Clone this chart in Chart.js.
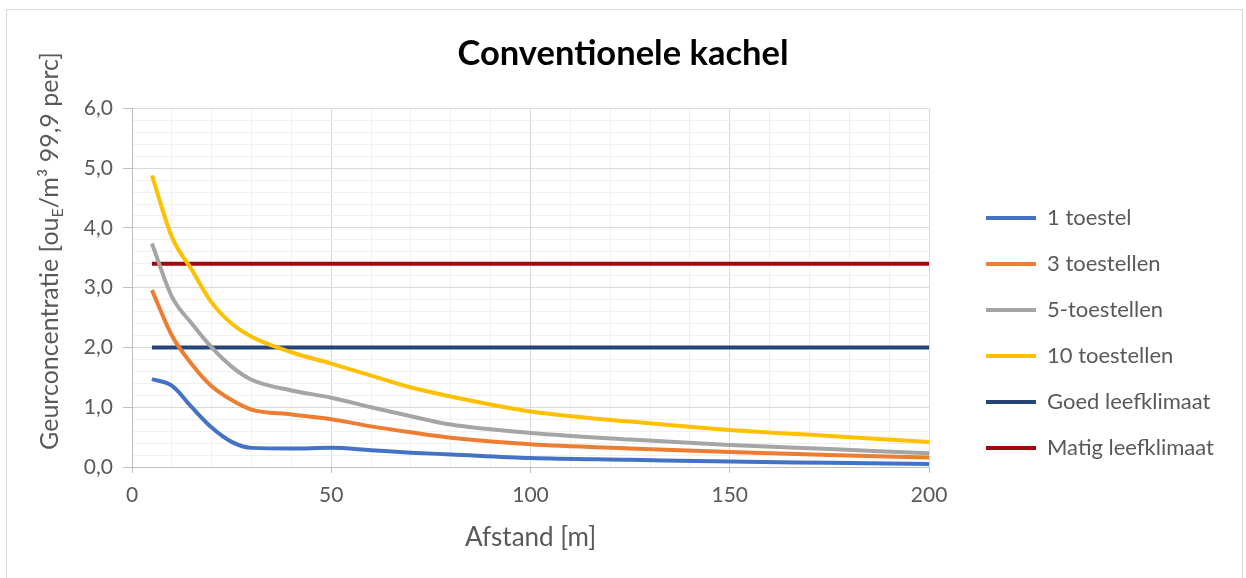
<!DOCTYPE html>
<html>
<head>
<meta charset="utf-8">
<script src="https://cdn.jsdelivr.net/npm/chart.js@4.4.1/dist/chart.umd.min.js"></script>
<style>
    html, body { margin: 0; padding: 0; background: #fff; }
    #wrap { width: 1246px; height: 578px; }
</style>
</head>
<body>
<div id="wrap"><canvas id="chart"></canvas></div>
<script>
// afstand in meter
const afstand = [5, 10, 15, 20, 25, 30, 40, 50, 60, 70, 80, 100, 125, 150, 175, 200];
const toestel1 = [1.47, 1.36, 1.00, 0.66, 0.42, 0.32, 0.31, 0.32, 0.28, 0.24, 0.21, 0.15, 0.12, 0.09, 0.07, 0.05];
const toestellen3 = [2.96, 2.20, 1.72, 1.35, 1.12, 0.96, 0.88, 0.80, 0.68, 0.58, 0.49, 0.38, 0.31, 0.25, 0.20, 0.16];
const toestellen5 = [3.74, 2.85, 2.40, 2.00, 1.68, 1.46, 1.28, 1.16, 1.00, 0.85, 0.71, 0.57, 0.46, 0.37, 0.30, 0.23];
const toestellen10 = [4.88, 3.85, 3.30, 2.75, 2.40, 2.18, 1.92, 1.73, 1.53, 1.33, 1.18, 0.93, 0.76, 0.62, 0.52, 0.42];

// normlijnen
const lijnBereik = [5, 200];
const goedLeefklimaat = 2.0;
const matigLeefklimaat = 3.4;

const xMajor = [0, 50, 100, 150, 200];
const yMajor = [0, 1, 2, 3, 4, 5, 6];

const TEXT = '#595959';
Chart.defaults.font.family = 'Lato';
Chart.defaults.color = TEXT;

const isMajorX = v => xMajor.includes(Math.round(v * 1000) / 1000);
const isMajorY = v => yMajor.includes(Math.round(v * 1000) / 1000);

const curve = (label, values, color) => ({
    label: label,
    data: afstand.map((x, i) => ({ x: x, y: values[i] })),
    borderColor: color,
    backgroundColor: color,
    borderWidth: 4,
    pointRadius: 0,
    cubicInterpolationMode: 'monotone',
    fill: false
});

const flat = (label, value, color) => ({
    label: label,
    data: lijnBereik.map(x => ({ x: x, y: value })),
    borderColor: color,
    backgroundColor: color,
    borderWidth: 4,
    pointRadius: 0,
    fill: false
});

// rand om de hele grafiek
const frame = {
    id: 'frame',
    beforeDraw(chart) {
        const ctx = chart.ctx;
        ctx.save();
        ctx.fillStyle = '#fff';
        ctx.fillRect(0, 0, chart.width, chart.height);
        ctx.strokeStyle = '#d9d9d9';
        ctx.lineWidth = 1;
        ctx.strokeRect(6.5, 9.5, 1236, 600);
        ctx.restore();
    }
};

// legenda iets lager en naar links zetten, zoals in Excel
const moveLegend = {
    id: 'moveLegend',
    afterLayout(chart) {
        const lg = chart.legend;
        const dx = 962 - lg.left;
        const dy = 44;
        lg.left += dx; lg.right += dx;
        lg.top += dy; lg.bottom += dy;
    }
};

// y-as titel met subscript E
const yTitle = {
    id: 'yTitle',
    afterDraw(chart) {
        const ctx = chart.ctx;
        const big = '25px Lato';
        const small = '16px Lato';
        const parts = [
            { t: 'Geurconcentratie [ou', f: big, dy: 0 },
            { t: 'E', f: small, dy: 5 },
            { t: '/m³ 99,9 perc]', f: big, dy: 0 }
        ];
        ctx.save();
        let total = 0;
        parts.forEach(p => { ctx.font = p.f; p.w = ctx.measureText(p.t).width; total += p.w; });
        ctx.translate(58, 251);
        ctx.rotate(-Math.PI / 2);
        ctx.fillStyle = TEXT;
        ctx.textBaseline = 'alphabetic';
        let x = -total / 2;
        parts.forEach(p => {
            ctx.font = p.f;
            ctx.fillText(p.t, x, p.dy);
            x += p.w;
        });
        ctx.restore();
    }
};

new Chart(document.getElementById('chart'), {
    type: 'line',
    data: {
        datasets: [
            curve('1 toestel', toestel1, '#4472C4'),
            curve('3 toestellen', toestellen3, '#ED7D31'),
            curve('5-toestellen', toestellen5, '#A5A5A5'),
            curve('10 toestellen', toestellen10, '#FFC000'),
            flat('Goed leefklimaat', goedLeefklimaat, '#264478'),
            flat('Matig leefklimaat', matigLeefklimaat, '#A00A0F')
        ]
    },
    options: {
        responsive: true,
        maintainAspectRatio: false,
        animation: false,
        layout: { padding: 0 },
        plugins: {
            title: {
                display: true,
                text: 'Conventionele kachel',
                color: '#000',
                font: { size: 34.5, weight: 'bold' },
                padding: { top: 33, bottom: 34 }
            },
            legend: {
                position: 'right',
                maxWidth: 320,
                labels: {
                    boxWidth: 50,
                    boxHeight: 4,
                    padding: 24,
                    color: TEXT,
                    font: { size: 22 },
                    generateLabels(chart) {
                        return Chart.defaults.plugins.legend.labels.generateLabels(chart).map(l => {
                            l.lineWidth = 0;
                            return l;
                        });
                    }
                }
            },
            tooltip: { enabled: false }
        },
        scales: {
            x: {
                type: 'linear',
                min: 0,
                max: 200,
                afterFit: s => { s.height = 111; },
                ticks: {
                    stepSize: 10,
                    autoSkip: false,
                    maxRotation: 0,
                    padding: 10,
                    font: { size: 21 },
                    callback: v => isMajorX(v) ? String(v) : ''
                },
                grid: {
                    color: c => isMajorX(c.tick.value) ? '#d9d9d9' : '#f0f0f0',
                    tickColor: c => isMajorX(c.tick.value) ? '#bfbfbf' : 'rgba(0,0,0,0)',
                    tickLength: 6
                },
                border: { color: '#bfbfbf' },
                title: {
                    display: true,
                    text: 'Afstand [m]',
                    font: { size: 26 },
                    padding: { top: 0, bottom: 25 }
                }
            },
            y: {
                min: 0,
                max: 6,
                afterFit: s => { s.width = 132; },
                ticks: {
                    stepSize: 0.2,
                    autoSkip: false,
                    padding: 10,
                    font: { size: 21 },
                    callback: v => isMajorY(v) ? v.toFixed(1).replace('.', ',') : ''
                },
                grid: {
                    color: c => isMajorY(c.tick.value) ? '#d9d9d9' : '#f0f0f0',
                    tickColor: c => isMajorY(c.tick.value) ? '#bfbfbf' : 'rgba(0,0,0,0)',
                    tickLength: 9
                },
                border: { color: '#bfbfbf' }
            },
            gap: {
                position: 'right',
                display: true,
                afterFit: s => { s.width = 55; },
                grid: { display: false },
                ticks: { display: false },
                border: { display: false }
            }
        }
    },
    plugins: [frame, moveLegend, yTitle]
});
</script>
</body>
</html>
